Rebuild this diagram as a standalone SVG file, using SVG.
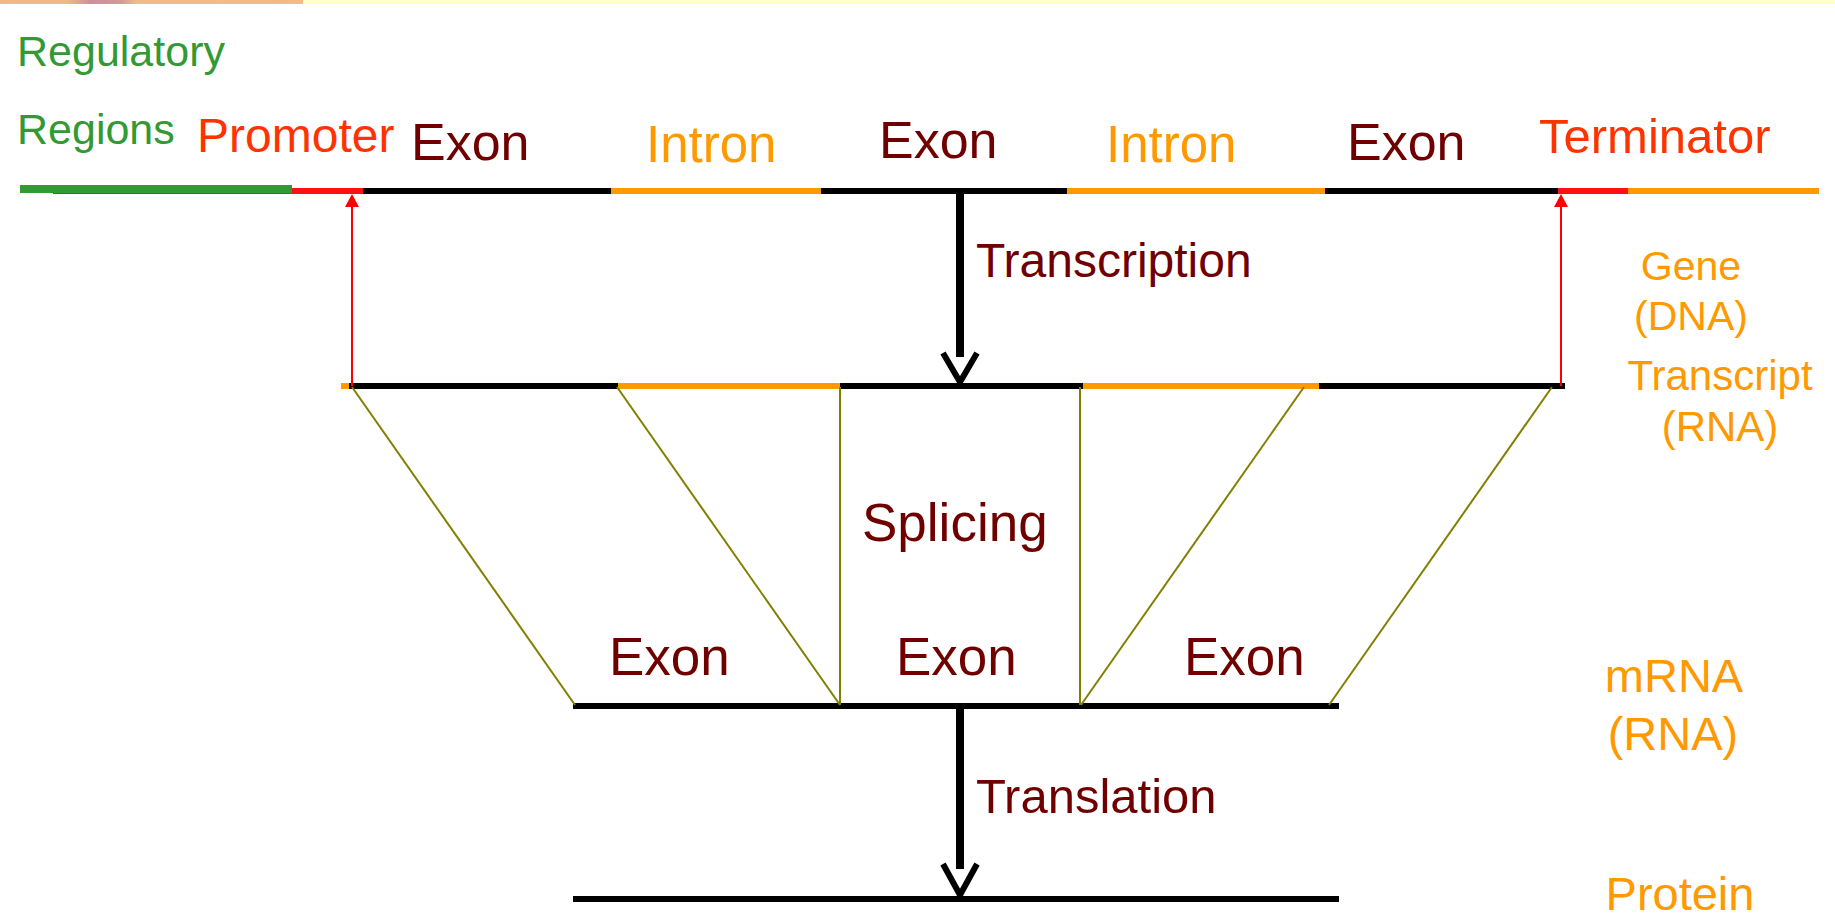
<svg xmlns="http://www.w3.org/2000/svg" width="1835" height="913" viewBox="0 0 1835 913">
<defs>
<linearGradient id="topgrad" x1="0" y1="0" x2="1" y2="0">
<stop offset="0" stop-color="#F2B987"/>
<stop offset="0.22" stop-color="#F0B88A"/>
<stop offset="0.3" stop-color="#C9919B"/>
<stop offset="0.4" stop-color="#D39A95"/>
<stop offset="0.45" stop-color="#F2BA86"/>
<stop offset="1" stop-color="#F4BC84"/>
</linearGradient>
<style>
text{font-family:"Liberation Sans",Arial,sans-serif}
.exon{fill:#700000}
.intron{fill:#FF9900}
.reg{fill:#339933}
.prom{fill:#FF3300}
.side{fill:#FF9900;text-anchor:middle}
.proc{fill:#700000}
.seg{stroke-width:6;fill:none}
.blk{stroke:#000}
.org{stroke:#FF9900}
.red{stroke:#FF1111}
.olive{stroke:#808000;stroke-width:2;fill:none}
.bigarrow{stroke:#000;fill:none}
.redarrow{stroke:#FF0000;stroke-width:2;fill:none}
</style>
</defs>
<rect x="0" y="0" width="1835" height="913" fill="#FFFFFF"/>
<rect x="0" y="0" width="303" height="4" fill="url(#topgrad)"/>
<rect x="303" y="0" width="1532" height="4" fill="#FFFFCC"/>

<g id="gene">
<line x1="53" y1="193" x2="292" y2="193" stroke="#FF1111" stroke-width="2"/>
<rect x="20" y="185" width="272" height="8" fill="#339933"/>
<line class="seg red" x1="292" y1="191" x2="363" y2="191"/>
<line class="seg blk" x1="363" y1="191" x2="611" y2="191"/>
<line class="seg org" x1="611" y1="191" x2="821" y2="191"/>
<line class="seg blk" x1="821" y1="191" x2="1067" y2="191"/>
<line class="seg org" x1="1067" y1="191" x2="1325" y2="191"/>
<line class="seg blk" x1="1325" y1="191" x2="1558" y2="191"/>
<line class="seg red" x1="1558" y1="191" x2="1628" y2="191"/>
<line class="seg org" x1="1628" y1="191" x2="1819" y2="191"/>
<text class="reg" x="17" y="66" font-size="43">Regulatory</text>
<text class="reg" x="17" y="144" font-size="43">Regions</text>
<text class="prom" x="197" y="152" font-size="48">Promoter</text>
<text class="exon" x="411" y="160" font-size="52">Exon</text>
<text class="intron" x="646" y="162" font-size="51">Intron</text>
<text class="exon" x="879" y="158" font-size="52">Exon</text>
<text class="intron" x="1106" y="162" font-size="51">Intron</text>
<text class="exon" x="1347" y="160" font-size="52">Exon</text>
<text class="prom" x="1539" y="153" font-size="49">Terminator</text>
<text class="side" x="1691" y="280" font-size="41">Gene</text>
<text class="side" x="1691" y="330" font-size="41">(DNA)</text>
</g>

<g id="transcript">
<line class="seg org" x1="341" y1="386" x2="349" y2="386"/>
<line class="seg blk" x1="349" y1="386" x2="618" y2="386"/>
<line class="seg org" x1="618" y1="386" x2="840" y2="386"/>
<line class="seg blk" x1="840" y1="386" x2="1083" y2="386"/>
<line class="seg org" x1="1083" y1="386" x2="1319" y2="386"/>
<line class="seg blk" x1="1319" y1="386" x2="1565" y2="386"/>
<text class="side" x="1720" y="390" font-size="42">Transcript</text>
<text class="side" x="1720" y="441" font-size="42">(RNA)</text>
</g>

<g id="mrna">
<line class="seg blk" x1="573" y1="706" x2="1339" y2="706"/>
<text class="exon" x="609" y="675" font-size="53">Exon</text>
<text class="exon" x="896" y="675" font-size="53">Exon</text>
<text class="exon" x="1184" y="675" font-size="53">Exon</text>
<text class="side" x="1674" y="692" font-size="47">mRNA</text>
<text class="side" x="1673" y="750" font-size="47">(RNA)</text>
</g>

<g id="protein">
<line class="seg blk" x1="573" y1="899" x2="1339" y2="899"/>
<text class="side" x="1680" y="910" font-size="47">Protein</text>
</g>

<g id="connectors">
<line class="redarrow" x1="352" y1="386" x2="352" y2="205"/>
<polygon points="352,194 345,207 359,207" fill="#FF0000"/>
<line class="redarrow" x1="1561" y1="386" x2="1561" y2="205"/>
<polygon points="1561,194 1554,207 1568,207" fill="#FF0000"/>

<line class="bigarrow" x1="960" y1="191" x2="960" y2="357" stroke-width="8"/>
<polyline class="bigarrow" points="943,353 960,382 977,353" stroke-width="6"/>
<text class="proc" x="976" y="277" font-size="48">Transcription</text>

<line class="olive" x1="352" y1="387" x2="575" y2="705"/>
<line class="olive" x1="617" y1="387" x2="840" y2="705"/>
<line class="olive" x1="840" y1="387" x2="840" y2="705"/>
<line class="olive" x1="1080" y1="387" x2="1080" y2="705"/>
<line class="olive" x1="1304" y1="387" x2="1081" y2="705"/>
<line class="olive" x1="1552" y1="387" x2="1329" y2="705"/>
<text class="proc" x="862" y="541" font-size="53">Splicing</text>

<line class="bigarrow" x1="960" y1="706" x2="960" y2="869" stroke-width="8"/>
<polyline class="bigarrow" points="943,864 960,895 977,864" stroke-width="6"/>
<text class="proc" x="976" y="813" font-size="49">Translation</text>
</g>
</svg>
